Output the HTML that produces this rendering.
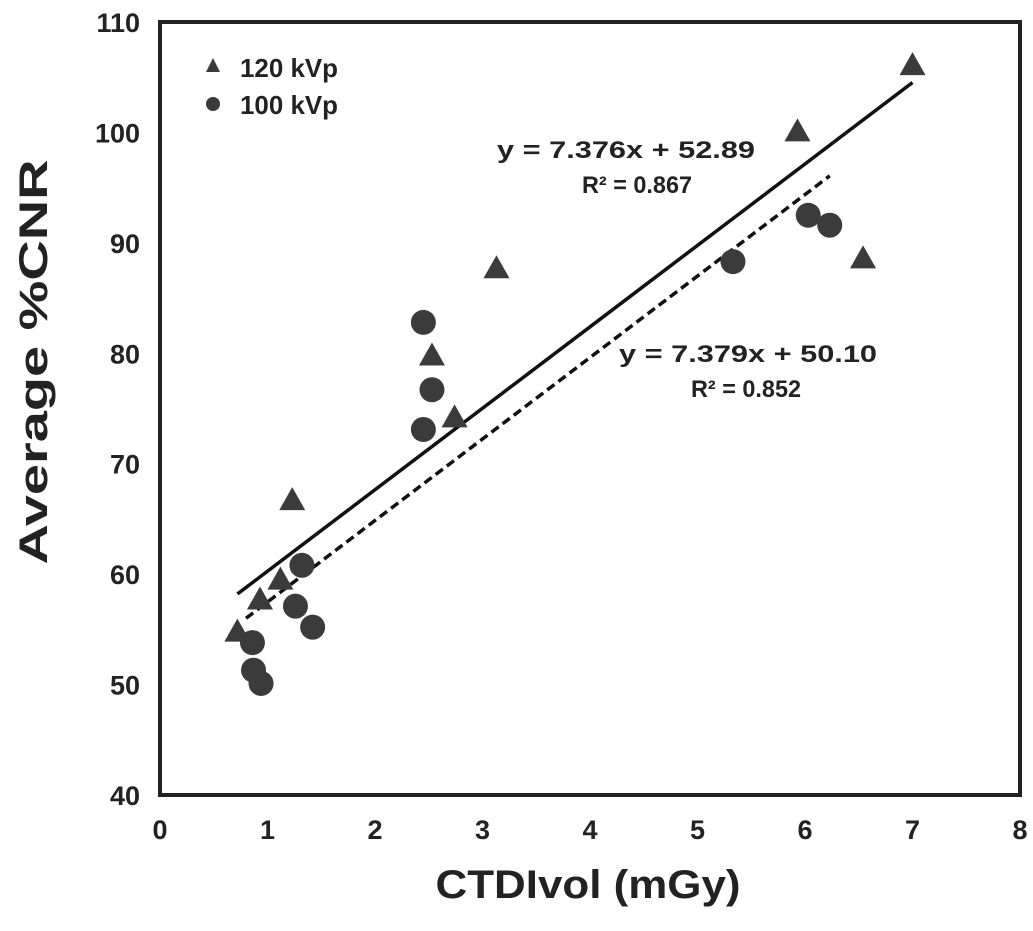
<!DOCTYPE html>
<html><head><meta charset="utf-8"><style>
body{margin:0;background:#fff;}
svg{display:block;font-family:"Liberation Sans",Arial,sans-serif;}
</style></head><body>
<svg id="chart" width="1033" height="931"></svg>
<script>
const xTicks=[0,1,2,3,4,5,6,7,8];
const yTicks=[40,50,60,70,80,90,100,110];
const x120=[0.72,0.93,1.12,1.23,2.53,2.74,3.13,5.93,6.54,7.0];
const y120=[54.8,57.7,59.5,66.7,79.8,74.2,87.7,100.1,88.6,106.1];
const x100=[0.86,0.87,0.94,1.26,1.32,1.42,2.45,2.53,2.45,5.33,6.03,6.23];
const y100=[53.8,51.3,50.1,57.1,60.8,55.2,82.8,76.7,73.1,88.3,92.5,91.6];
const fit120=[7.376,52.89,0.72,7.0];
const fit100=[7.379,50.10,0.80,6.23];
const NS="http://www.w3.org/2000/svg";
const svg=document.getElementById('chart');
const L=160,R=1020,T=22,B=795;
const sx=v=>L+(v-0)/(8-0)*(R-L);
const sy=v=>B-(v-40)/(110-40)*(B-T);
function mk(t,a,p){const e=document.createElementNS(NS,t);for(const k in a)e.setAttribute(k,a[k]);(p||svg).appendChild(e);return e;}
const col="#3b3b3b";
xTicks.forEach(v=>{const t=mk('text',{x:sx(v),y:839,'text-anchor':'middle','font-size':27,'font-weight':'bold',fill:'#222'});t.textContent=v;

});
yTicks.forEach(v=>{const t=mk('text',{x:140,y:sy(v)+10,'text-anchor':'end','font-size':27,'font-weight':'bold',fill:'#222'});t.textContent=v;

});
function fitLine(f,dash,name){const l=mk('line',{x1:sx(f[2]),y1:sy(f[0]*f[2]+f[1]),x2:sx(f[3]),y2:sy(f[0]*f[3]+f[1]),stroke:'#111','stroke-width':3.5});if(dash)l.setAttribute('stroke-dasharray','9 5');

}
fitLine(fit120,false,'trendline-120kvp');
fitLine(fit100,true,'trendline-100kvp');
x120.forEach((v,i)=>{const cx=sx(v),cy=sy(y120[i]);const p=mk('polygon',{points:`${cx},${cy-13} ${cx+13},${cy+10} ${cx-13},${cy+10}`,fill:col});

});
x100.forEach((v,i)=>{const c=mk('circle',{cx:sx(v),cy:sy(y100[i]),r:12.5,fill:col});

});
const fr=mk('rect',{x:L,y:T,width:R-L,height:B-T,fill:'none',stroke:'#222','stroke-width':4});


function txt(s,x,y,sz,w,name,anchor,len){const t=mk('text',{x,y,'font-size':sz,'font-weight':w,'text-anchor':anchor||'middle',fill:'#222'});if(len){t.setAttribute('textLength',len);t.setAttribute('lengthAdjust','spacingAndGlyphs');}t.textContent=s;

return t;}
const lt=mk('polygon',{points:'213,58 220,72 206,72',fill:col});


txt('120 kVp',240,77,26,'bold','legend-label-120kvp','start',98);
const lc=mk('circle',{cx:213,cy:104,r:7,fill:col});


txt('100 kVp',240,114,26,'bold','legend-label-100kvp','start',98);
txt('y = 7.376x + 52.89',626,158,24,'bold','equation-120kvp','middle',258);
txt('R² = 0.867',637,193,24,'bold','r-squared-120kvp','middle',110);
txt('y = 7.379x + 50.10',748,362,24,'bold','equation-100kvp','middle',258);
txt('R² = 0.852',746,397,24,'bold','r-squared-100kvp','middle',110);
txt('CTDIvol (mGy)',588,898,40,'bold','x-axis-title','middle',305);
const yt=txt('Average %CNR',0,0,40,'bold','y-axis-title','middle',405);
yt.setAttribute('transform','translate(47,362) rotate(-90)');
</script>
</body></html>
